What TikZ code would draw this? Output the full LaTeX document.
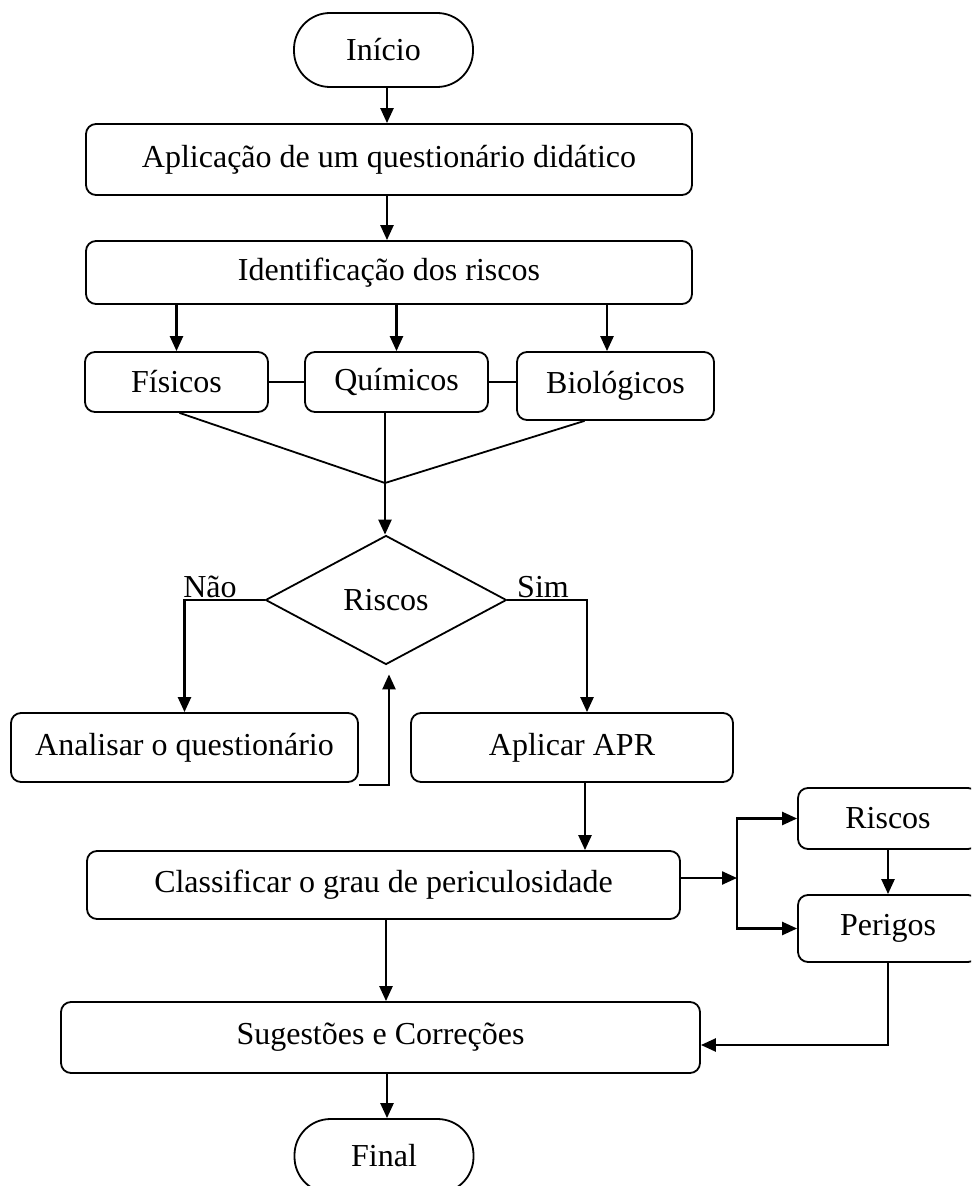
\documentclass[tikz,border=0pt]{standalone}
\usepackage{fontspec}
\setmainfont{Liberation Serif}
\usetikzlibrary{shapes.geometric,arrows.meta,calc}

\tikzset{
	caixa/.style={draw, rounded corners=5pt, line width=0.9pt, align=center, font=\fontsize{16}{19}\selectfont},
	terminal/.style={caixa, rounded corners=18pt, minimum width=89.5pt, minimum height=37pt},
	decisao/.style={diamond, draw, line width=0.9pt, inner sep=0pt, minimum width=120.5pt, minimum height=64.5pt, font=\fontsize{16}{19}\selectfont},
	rotulo/.style={inner sep=0pt, font=\fontsize{16}{19}\selectfont},
	seta/.style={line width=1.2pt, -{Triangle[length=7.5pt,width=6.5pt]}},
	linha/.style={line width=0.9pt}
}

\begin{document}
\begin{tikzpicture}[x=0.5pt, y=-0.5pt]
	\useasboundingbox (0,0) rectangle (971,1186);
	\clip (0,0) rectangle (971,1186);
	
	\node[terminal] (inicio) at (383.5,50) {Início};
	
	\node[caixa, minimum width=303pt, minimum height=35.5pt] (aplicacao) at (389,159.5) {Aplicação de um questionário didático};
	
	\node[caixa, minimum width=303pt, minimum height=31.5pt] (identificacao) at (389,272.5) {Identificação dos riscos};
	
	\node[caixa, minimum width=91.5pt, minimum height=30pt] (fisicos) at (176.5,382) {Físicos};
	
	\node[caixa, minimum width=91.5pt, minimum height=30pt] (quimicos) at (396.5,382) {Químicos};
	
	\node[caixa, minimum width=98.5pt, minimum height=34pt] (biologicos) at (615.5,386) {Biológicos};
	
	\node[decisao] (riscos) at (386,600) {Riscos};
	
	\node[caixa, minimum width=173.5pt, minimum height=34.5pt] (analisar) at (184.5,747.5) {Analisar o questionário};
	
	\node[caixa, minimum width=161pt, minimum height=34.5pt] (apr) at (572,747.5) {Aplicar APR};
	
	\node[caixa, minimum width=296.5pt, minimum height=34pt] (classificar) at (383.5,885) {Classificar o grau de periculosidade};
	
	\node[caixa, minimum width=90pt, minimum height=30.5pt] (riscosb) at (888,818.5) {Riscos};
	
	\node[caixa, minimum width=90pt, minimum height=33.5pt] (perigos) at (888,928.5) {Perigos};
	
	\node[caixa, minimum width=319.5pt, minimum height=35.5pt] (sugestoes) at (380.5,1037.5) {Sugestões e Correções};
	
	\node[terminal] (final) at (384,1156) {Final};
	
	\node[rotulo, anchor=base] (nao) at (210,597) {Não};
	
	\node[rotulo, anchor=base] (sim) at (543,597) {Sim};
	
	\coordinate (juncao) at (385,483);
	
	\coordinate (divisao) at (737,878);
	
	\draw[seta] (inicio.south -| 387,0) -- (aplicacao.north -| 387,0);
	
	\draw[seta] (aplicacao.south -| 387,0) -- (identificacao.north -| 387,0);
	
	\draw[seta] (identificacao.south -| fisicos.north) -- (fisicos.north);
	
	\draw[seta] (identificacao.south -| quimicos.north) -- (quimicos.north);
	
	\draw[seta] (identificacao.south -| 607,0) -- (biologicos.north -| 607,0);
	
	\draw[linha] (fisicos.east) -- (quimicos.west);
	
	\draw[linha] (quimicos.east) -- (quimicos.east -| biologicos.west);
	
	\draw[linha] ($(fisicos.south)+(3,0)$) -- (juncao);
	
	\draw[linha] ($(biologicos.south)+(-31,0)$) -- (juncao);
	
	\draw[seta] (quimicos.south -| juncao) -- (riscos.north -| juncao);
	
	\draw[seta] (riscos.west) -| (analisar.north);
	
	\draw[seta] (riscos.east) -| ($(apr.north)+(15,0)$);
	
	\draw[seta] ($(analisar.south east)+(0,2)$) -| ($(riscos.south)+(3,9)$);
	
	\draw[seta] ($(apr.south)+(13,0)$) -- ($(apr.south |- classificar.north)+(13,0)$);
	
	\draw[seta] (classificar.east |- divisao) -- (divisao);
	
	\draw[seta] (divisao) |- (riscosb.west);
	
	\draw[seta] (divisao) |- (perigos.west);
	
	\draw[seta] (riscosb.south) -- (perigos.north);
	
	\draw[seta] (perigos.south) |- ($(sugestoes.east)+(0,7.5)$);
	
	\draw[seta] (classificar.south -| 386,0) -- (sugestoes.north -| 386,0);
	
	\draw[seta] (sugestoes.south -| 387,0) -- (final.north -| 387,0);
	
\end{tikzpicture}
\end{document}
